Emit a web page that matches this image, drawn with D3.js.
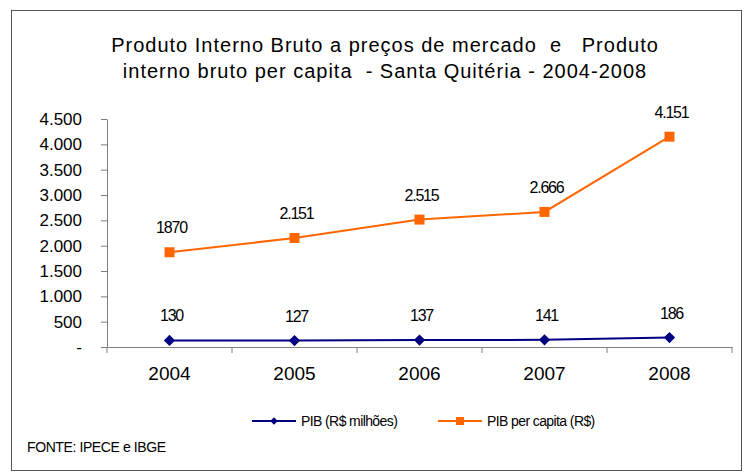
<!DOCTYPE html>
<html>
<head>
<meta charset="utf-8">
<script src="https://cdn.jsdelivr.net/npm/d3@7"></script>
<style>
  body { margin: 0; background: #fff; }
  svg text { font-family: "Liberation Sans", Arial, sans-serif; fill: #000; }
</style>
</head>
<body>
<div class="chart"></div>
<script>
// data
const years = ['2004', '2005', '2006', '2007', '2008'];
const pib = [130, 127, 137, 141, 186];               // PIB (R$ milhões)
const pibLabels = ['130', '127', '137', '141', '186'];
const perCapita = [1870, 2151, 2515, 2666, 4151];     // PIB per capita (R$)
const perCapitaLabels = ['1870', '2.151', '2.515', '2.666', '4.151'];
const yTicks = [0, 500, 1000, 1500, 2000, 2500, 3000, 3500, 4000, 4500];
const titleLines = [
	'Produto Interno Bruto a preços de mercado  e   Produto',
	'interno bruto per capita  - Santa Quitéria - 2004-2008'
];

const width = 751, height = 473;
const plot = { left: 107, right: 732, top: 119, bottom: 347 };

const ptBR = d3.formatLocale({ decimal: ',', thousands: '.', grouping: [3], currency: ['R$', ''] });
const fmt = ptBR.format(',d');

const svg = d3.select('.chart').append('svg')
	.attr('width', width)
	.attr('height', height);

// outer frame
svg.append('rect')
	.attr('x', 11.5).attr('y', 10.5)
	.attr('width', 730).attr('height', 460)
	.attr('fill', 'none')
	.attr('stroke', '#555');

// title
svg.append('g').selectAll('text')
	.data(titleLines).enter()
	.append('text')
	.attr('x', 385)
	.attr('y', (d, i) => 52 + i * 26)
	.attr('text-anchor', 'middle')
	.style('font-size', '20px')
	.style('letter-spacing', '1px')
	.style('white-space', 'pre')
	.text(d => d);

let x = d3.scaleBand()
	.domain(years)
	.range([plot.left, plot.right]);

let y = d3.scaleLinear()
	.domain([0, 4500])
	.range([plot.bottom, plot.top]);

// y axis
let yAxis = svg.append('g')
	.attr('transform', `translate(${plot.left}, 0)`)
	.call(d3.axisLeft(y).tickValues(yTicks).tickSize(6).tickSizeOuter(0)
		.tickFormat(d => d === 0 ? '-' : fmt(d)));
yAxis.select('.domain').attr('stroke', '#808080');
yAxis.selectAll('.tick line').attr('stroke', '#808080');
yAxis.selectAll('.tick text')
	.attr('x', -25)
	.style('font-size', '17px')
	.style('font-family', '"Liberation Sans", Arial, sans-serif');

// x axis
let xAxis = svg.append('g')
	.attr('transform', `translate(0, ${plot.bottom})`)
	.call(d3.axisBottom(x).tickSize(0).tickSizeOuter(0));
xAxis.select('.domain').attr('stroke', '#808080');
xAxis.selectAll('.tick text')
	.attr('y', 20)
	.style('font-size', '19px')
	.style('font-family', '"Liberation Sans", Arial, sans-serif');
// category separators
xAxis.selectAll('.sep')
	.data(years.concat(['end']))
	.enter().append('line')
	.attr('class', 'sep')
	.attr('x1', (d, i) => i < years.length ? x(d) : plot.right)
	.attr('x2', (d, i) => i < years.length ? x(d) : plot.right)
	.attr('y1', 0).attr('y2', 6)
	.attr('stroke', '#808080');

let cx = d => x(d) + x.bandwidth() / 2;

let line = d3.line()
	.x(d => cx(d.year))
	.y(d => y(d.v));

let series = [
	{ values: perCapita, labels: perCapitaLabels, color: '#ff6600', symbol: d3.symbolSquare, size: 100, rot: 0 },
	{ values: pib, labels: pibLabels, color: '#000080', symbol: d3.symbolSquare, size: 64, rot: 45 }
];

series.forEach(s => {
	let pts = years.map((yr, i) => ({ year: yr, v: s.values[i], label: s.labels[i] }));
	let g = svg.append('g');
	g.append('path')
		.datum(pts)
		.attr('fill', 'none')
		.attr('stroke', s.color)
		.attr('stroke-width', 2)
		.attr('d', line);
	g.selectAll('.mark')
		.data(pts).enter()
		.append('path')
		.attr('class', 'mark')
		.attr('d', d3.symbol().type(s.symbol).size(s.size))
		.attr('fill', s.color)
		.attr('transform', d => `translate(${cx(d.year)}, ${y(d.v)}) rotate(${s.rot})`);
	g.selectAll('.lbl')
		.data(pts).enter()
		.append('text')
		.attr('class', 'lbl')
		.attr('x', d => cx(d.year) + 2)
		.attr('y', d => y(d.v) - 19)
		.attr('text-anchor', 'middle')
		.style('font-size', '16px')
		.style('letter-spacing', '-1.2px')
		.text(d => d.label);
});

// legend
let legend = [
	{ name: 'PIB (R$ milhões)', color: '#000080', symbol: d3.symbolSquare, size: 30, rot: 45, x: 252 },
	{ name: 'PIB per capita (R$)', color: '#ff6600', symbol: d3.symbolSquare, size: 64, rot: 0, x: 438 }
];
let lg = svg.append('g').selectAll('g').data(legend).enter().append('g')
	.attr('transform', d => `translate(${d.x}, 421)`);
lg.append('line')
	.attr('x1', 0).attr('x2', 44)
	.attr('stroke', d => d.color)
	.attr('stroke-width', 2);
lg.append('path')
	.attr('d', d => d3.symbol().type(d.symbol).size(d.size)())
	.attr('fill', d => d.color)
	.attr('transform', d => `translate(22, 0) rotate(${d.rot})`);
lg.append('text')
	.attr('x', 49).attr('y', 5)
	.style('font-size', '14px')
	.style('letter-spacing', '-0.6px')
	.text(d => d.name);

// source note
svg.append('text')
	.attr('x', 27).attr('y', 452)
	.style('font-size', '14px')
	.style('letter-spacing', '-0.4px')
	.text('FONTE: IPECE e IBGE');
</script>
</body>
</html>
